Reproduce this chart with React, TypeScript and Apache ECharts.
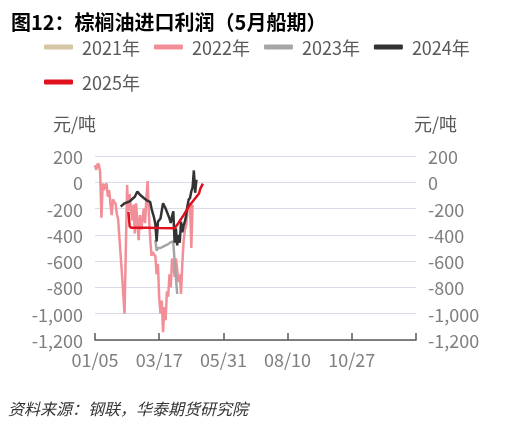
import React, { useEffect, useRef } from "react";
import * as echarts from "echarts";

const seriesNames = ["2021年", "2022年", "2023年", "2024年", "2025年"];
const seriesColors = ["#D5C6A4", "#F28E97", "#A6A6A6", "#333333", "#E0101E"];
const tickLabels = ["01/05", "03/17", "05/31", "08/10", "10/27"];

// x = trading-day index from 01/05, y = profit (元/吨)
const days2021: number[] = [];
const profit2021: number[] = [];

const days2022 = [0, 1, 2, 3, 4, 5, 6, 7, 8, 9, 10, 11, 12, 13, 14, 15, 16, 17, 18, 19, 20, 21, 22, 23, 24, 25, 26, 27, 28, 29, 30, 31, 32, 33, 34, 35, 36, 37, 38, 39, 40, 41, 42, 43, 44, 45, 46, 47, 48, 49, 50, 51, 52, 53, 54, 55, 56, 57, 58, 59, 60, 61, 62, 63, 64, 65, 66, 67, 68, 69, 70, 71, 72, 73, 74, 75, 76];
const profit2022 = [130, 95, 140, 135, 80, -270, -10, -60, -20, -10, -110, -60, -160, -250, -130, -150, -160, -240, -280, -420, -560, -700, -850, -1000, -520, -20, -220, -90, -200, -290, -170, -390, -160, -300, -440, -250, -360, -280, -200, -310, -120, 10, -250, -430, -560, -530, -550, -560, -700, -620, -880, -1000, -900, -1140, -950, -1050, -830, -870, -700, -800, -580, -620, -720, -580, -660, -760, -700, -850, -620, -450, -360, -330, -220, -200, -160, -500, -170];

const days2023 = [47, 48, 49, 51, 53, 55, 57, 60, 61, 62, 63, 64];
const profit2023 = [-440, -520, -500, -500, -490, -480, -470, -450, -460, -600, -720, -850];

const days2024 = [20, 23, 27, 31, 33, 35, 38, 40, 43, 44, 45, 46, 47, 48, 49, 51, 53, 55, 57, 58, 59, 60, 61, 62, 63, 64, 65, 66, 67, 68, 69, 70, 71, 72, 73, 74, 75, 76, 77, 78, 79];
const profit2024 = [-185, -160, -145, -110, -70, -95, -120, -135, -150, -200, -235, -270, -320, -450, -300, -275, -160, -200, -250, -275, -310, -260, -220, -460, -350, -480, -400, -460, -300, -380, -330, -300, -250, -180, -130, -120, -70, -40, 90, -80, 20];

const days2025 = [26, 27, 28, 40, 50, 62, 65, 69, 73, 77, 81, 82, 84];
const profit2025 = [-225, -335, -345, -345, -348, -350, -310, -250, -185, -135, -85, -50, -10];

const allDays = [days2021, days2022, days2023, days2024, days2025];
const allProfit = [profit2021, profit2022, profit2023, profit2024, profit2025];

const FONT = '"Noto Sans CJK SC", "Noto Sans", sans-serif';

export default function App() {
  const ref = useRef<HTMLDivElement>(null);
  useEffect(() => {
    if (!ref.current) return;
    const chart = echarts.init(ref.current, null, { renderer: "svg" });
    const fmt = (v: number) => v.toLocaleString("en-US");
    const yBase = {
      type: "value" as const,
      min: -1200,
      max: 200,
      interval: 200,
      axisLine: { show: false },
      axisTick: { show: false },
    };
    const legendBase = {
      left: 39,
      itemWidth: 29,
      itemHeight: 5,
      itemGap: 14,
      icon: "roundRect",
      textStyle: { fontFamily: FONT, fontSize: 18, color: "#595959", padding: [0, 0, 0, 4] },
    };
    chart.setOption({
      animation: false,
      textStyle: { fontFamily: FONT },
      title: {
        text: "图12：棕榈油进口利润（5月船期）",
        left: 6,
        top: 6,
        textStyle: { fontFamily: FONT, fontSize: 20, fontWeight: "bold", color: "#000" },
      },
      legend: [
        { ...legendBase, top: 33, data: seriesNames.slice(0, 4) },
        { ...legendBase, top: 68, data: seriesNames.slice(4) },
      ],
      grid: { left: 95, right: 103, top: 156, bottom: 86, containLabel: false },
      xAxis: {
        type: "value",
        min: 0,
        max: 250,
        interval: 50,
        axisLine: { onZero: false, lineStyle: { color: "#595959", width: 1.5 } },
        axisTick: { inside: true, length: 7, lineStyle: { color: "#595959", width: 1.5 } },
        axisLabel: {
          fontFamily: FONT,
          fontSize: 18,
          color: "#7f7f7f",
          margin: 10,
          formatter: (v: number) => tickLabels[Math.round(v / 50)] ?? "",
        },
        splitLine: { show: false },
      },
      yAxis: [
        {
          ...yBase,
          position: "left",
          axisLabel: { fontFamily: FONT, fontSize: 18, color: "#7f7f7f", margin: 12, formatter: fmt },
          splitLine: { lineStyle: { color: "#D9DDE8", width: 1 } },
        },
        {
          ...yBase,
          position: "right",
          axisLabel: { fontFamily: FONT, fontSize: 18, color: "#7f7f7f", margin: 12, formatter: fmt },
          splitLine: { show: false },
        },
      ],
      series: seriesNames.map((name, i) => ({
        name,
        type: "line",
        yAxisIndex: 0,
        showSymbol: false,
        symbol: "none",
        color: seriesColors[i],
        lineStyle: { width: 2.5, color: seriesColors[i] },
        data: allDays[i].map((d, j) => [d, allProfit[i][j]]),
        z: 2 + i,
      })),
      graphic: [
        {
          type: "text",
          left: 53,
          top: 114,
          style: { text: "元/吨", font: `18px ${FONT}`, fill: "#595959" },
        },
        {
          type: "text",
          left: 414,
          top: 114,
          style: { text: "元/吨", font: `18px ${FONT}`, fill: "#595959" },
        },
        {
          type: "text",
          left: 8,
          top: 400,
          style: { text: "资料来源：钢联，华泰期货研究院", font: `italic 16px ${FONT}`, fill: "#333" },
        },
      ],
    });
    return () => chart.dispose();
  }, []);
  return <div ref={ref} style={{ position: "fixed", left: 0, top: 0, width: 519, height: 426 }} />;
}
